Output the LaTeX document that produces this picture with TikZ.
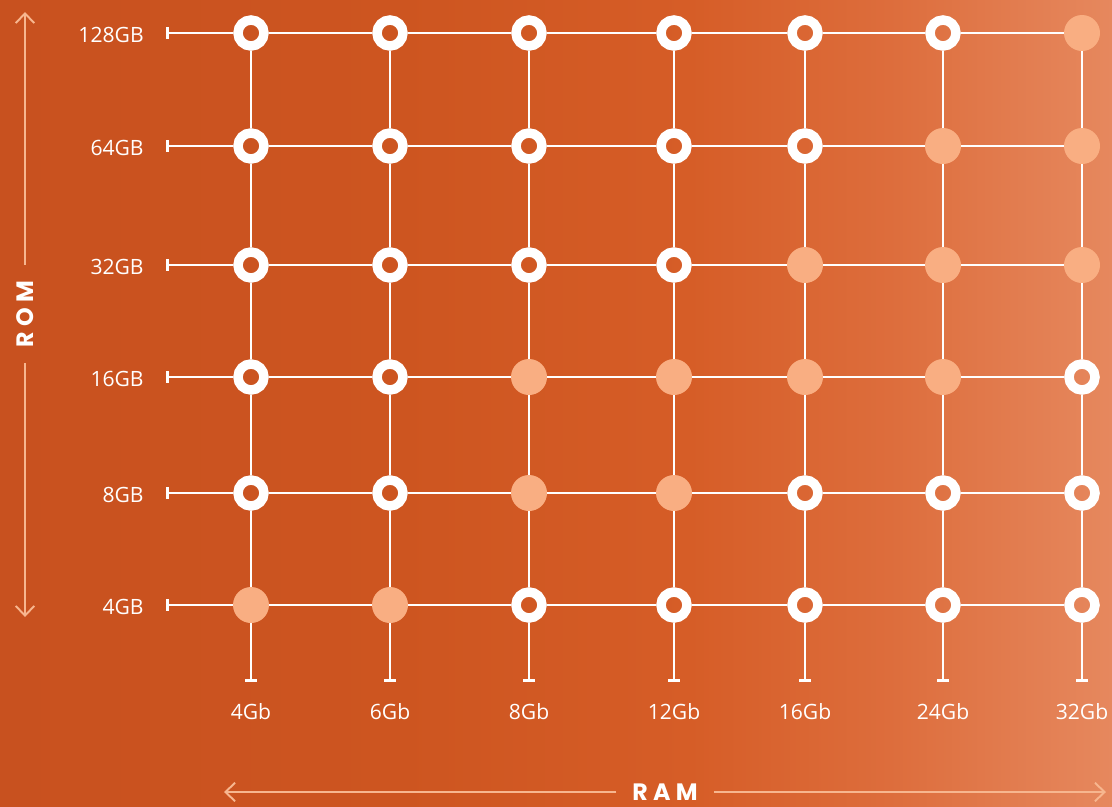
\documentclass[tikz,border=0pt]{standalone}
\usepackage{fontspec}
\setmainfont{Open Sans}
\newfontfamily\axisfont{Poppins}[LetterSpace=22]
\usepackage{xcolor}
\usetikzlibrary{arrows.meta,positioning}
\definecolor{BgLeft}{HTML}{C8511F}
\definecolor{BgWarm}{HTML}{CD5520}
\definecolor{BgMid}{HTML}{D65D27}
\definecolor{BgLight}{HTML}{DD6D3C}
\definecolor{BgRight}{HTML}{E6885E}
\definecolor{Peach}{HTML}{F9AE82}
\definecolor{AxisLine}{HTML}{F7B68F}
\pgfdeclarehorizontalshading{bgshade}{100bp}{color(0bp)=(BgLeft); color(25bp)=(BgLeft); color(43bp)=(BgWarm); color(56bp)=(BgMid); color(65bp)=(BgLight); color(75bp)=(BgRight); color(100bp)=(BgRight)}

\begin{document}
\begin{tikzpicture}[x=0.02cm,y=-0.02cm,
  ring/.style={circle,draw=white,line width=5.4pt,minimum size=0.52cm,inner sep=0pt},
  full/.style={circle,fill=Peach,minimum size=0.72cm,inner sep=0pt},
  gridline/.style={white,line width=1.6pt},
  tickline/.style={white,line width=1.6pt},
  axisline/.style={AxisLine,line width=1.1pt},
  val/.style={white,font=\fontsize{12}{14}\selectfont,inner sep=0pt},
  axis/.style={white,font=\axisfont\bfseries\fontsize{13.5}{15}\selectfont,inner ysep=0pt,inner xsep=9pt}]
\shade[shading=bgshade] (0,0) rectangle (1112,806);
\useasboundingbox (0,0) rectangle (1112,806);
\foreach \c/\x in {1/251,2/390,3/529,4/674,5/805,6/943,7/1082}{
  \foreach \r/\y in {1/605,2/493,3/377,4/265,5/146,6/33}{\coordinate (p\c-\r) at (\x,\y);}}
\foreach \c/\r in {1/6,2/6,3/6,4/6,5/6,6/6,1/5,2/5,3/5,4/5,5/5,1/4,2/4,3/4,4/4,1/3,2/3,7/3,1/2,2/2,5/2,6/2,7/2,3/1,4/1,5/1,6/1,7/1}{\node[ring] (n\c-\r) at (p\c-\r) {};}
\foreach \c/\r in {7/6,6/5,7/5,5/4,6/4,7/4,3/3,4/3,5/3,6/3,3/2,4/2,1/1,2/1}{\node[full] (n\c-\r) at (p\c-\r) {};}
\foreach \r in {1,...,6}{\foreach \c [evaluate=\c as \n using int(\c+1)] in {1,...,6}{\draw[gridline] (n\c-\r) -- (n\n-\r);}}
\foreach \c in {1,...,7}{\foreach \r [evaluate=\r as \n using int(\r+1)] in {1,...,5}{\draw[gridline] (n\c-\r) -- (n\c-\n);}}
\foreach \r/\y/\t in {1/605/4GB,2/493/8GB,3/377/16GB,4/265/32GB,5/146/64GB,6/33/128GB}{
  \coordinate (lt\r) at (166,\y);
  \draw[tickline,{Bar[width=6.5pt]}-] (lt\r) -- (n1-\r);
  \node[val,anchor=east] (rl\r) at (144,\y+2) {\t};}
\foreach \c/\x/\t in {1/251/4Gb,2/390/6Gb,3/529/8Gb,4/674/12Gb,5/805/16Gb,6/943/24Gb,7/1082/32Gb}{
  \coordinate (bt\c) at (\x,682);
  \draw[tickline,-{Bar[width=6.5pt]}] (n\c-1) -- (bt\c);
  \node[val] (cl\c) at (\x,712) {\t};}
\node[axis,rotate=90] (rom) at (25,314) {ROM};
\coordinate (romtop) at (25,12);
\coordinate (rombot) at (25,617);
\draw[axisline,-{Straight Barb[length=5.5pt,width=10.5pt]}] (rom) -- (romtop);
\draw[axisline,-{Straight Barb[length=5.5pt,width=10.5pt]}] (rom) -- (rombot);
\node[axis] (ram) at (665,792) {RAM};
\coordinate (ramleft) at (224,792);
\coordinate (ramright) at (1106,792);
\draw[axisline,-{Straight Barb[length=5.5pt,width=10.5pt]}] (ram) -- (ramleft);
\draw[axisline,-{Straight Barb[length=5.5pt,width=10.5pt]}] (ram) -- (ramright);
\end{tikzpicture}
\end{document}
